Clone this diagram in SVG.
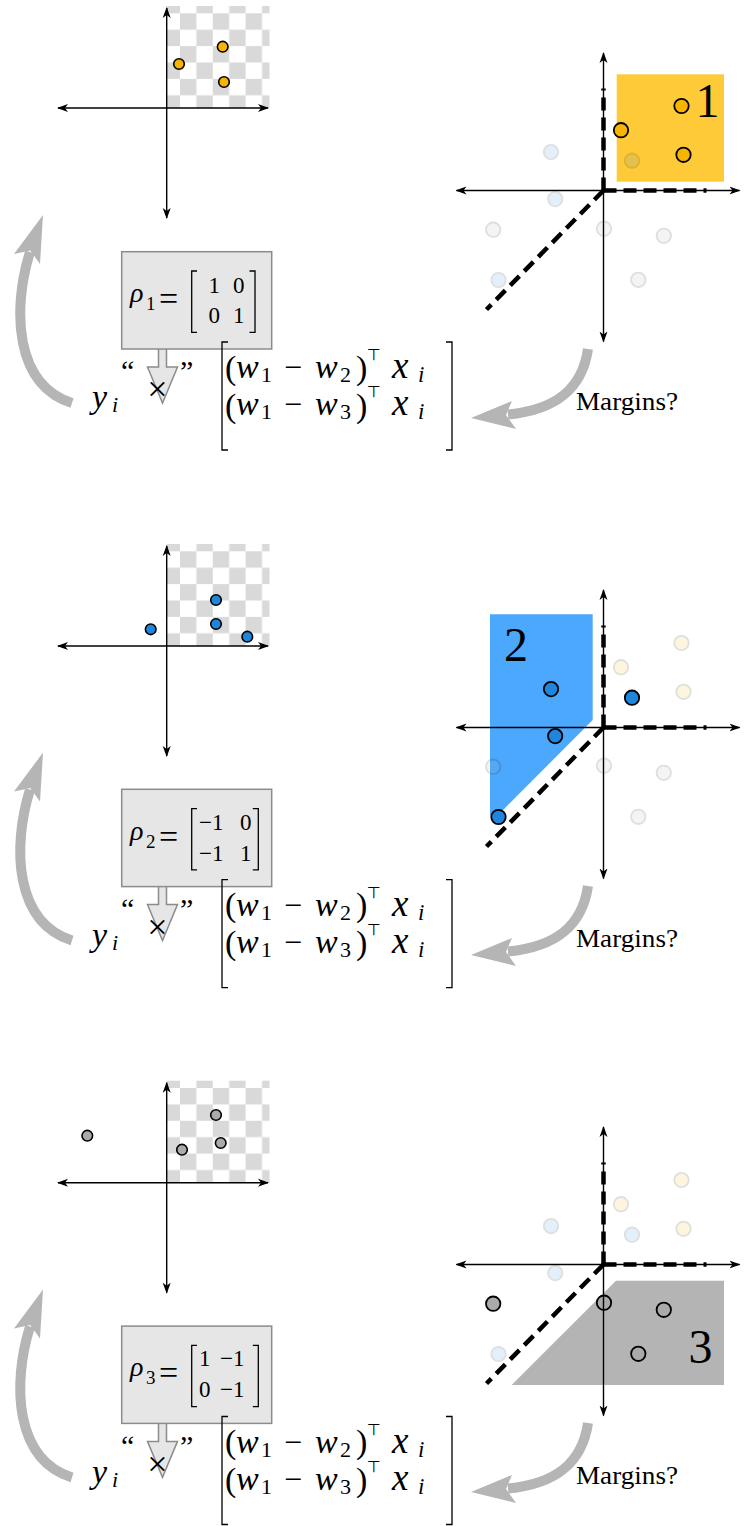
<svg xmlns="http://www.w3.org/2000/svg" width="744" height="1526" viewBox="0 0 744 1526">
<style>
.ax{fill:none;stroke:#000;stroke-width:1.4;marker-start:url(#ah);marker-end:url(#ah)}
.dsh{fill:none;stroke:#000;stroke-width:4.5;stroke-dasharray:13 7}
.po{fill:#f7b500;stroke:#000;stroke-width:1.8}
.pb{fill:#1f86de;stroke:#000;stroke-width:1.8}
.pg{fill:#aaaaaa;stroke:#000;stroke-width:1.8}
.lp circle{stroke-width:1.6}
.fd{opacity:0.12}
.box{fill:#e6e6e6;stroke:#8c8c8c;stroke-width:1.5}
.brk{fill:none;stroke:#000;stroke-width:1.3}
.gs{fill:none;stroke:#b5b5b5;stroke-width:10}
.gh{fill:#b5b5b5}
text{font-family:"Liberation Serif","DejaVu Serif",serif;fill:#000}
.i{font-style:italic}
.sym{font-family:"DejaVu Sans",sans-serif;font-style:normal}
.c{text-anchor:middle}
</style>
<defs>
<marker id="ah" viewBox="0 0 11 10" refX="10" refY="5" markerWidth="11" markerHeight="10" markerUnits="userSpaceOnUse" orient="auto-start-reverse">
<path d="M0,1 L11,5 L0,9 L3,5 z" fill="#000"/>
</marker>
<pattern id="chk" patternUnits="userSpaceOnUse" x="13.3" y="-94.7" width="32.8" height="32.8">
<rect width="32.8" height="32.8" fill="#fff"/>
<rect width="16.4" height="16.4" fill="#d9d9d9"/>
<rect x="16.4" y="16.4" width="16.4" height="16.4" fill="#d9d9d9"/>
</pattern>
</defs>

<!-- ================= PANEL 1 ================= -->
<g id="left-plot-1" class="lp" transform="translate(166.7,108)">
<rect x="0" y="-102" width="102.8" height="102" fill="url(#chk)"/>
<line class="ax" x1="-108.7" y1="0" x2="101.3" y2="0"/>
<line class="ax" x1="0" y1="110" x2="0" y2="-100"/>
<circle class="po" r="5.3" cx="12.3" cy="-44"/>
<circle class="po" r="5.3" cx="56" cy="-61.3"/>
<circle class="po" r="5.3" cx="57.3" cy="-26"/>
</g>

<g id="right-plot-1" transform="translate(603.5,190.5)">
<rect x="13.2" y="-116.2" width="107.3" height="107.4" fill="#ffca38"/>
<text class="c" x="104" y="-73.5" font-size="48" fill="#8d6e12">1</text>
<g class="fd">
<circle class="pb" r="7.2" cx="-52.5" cy="-38.4"/><circle class="pb" r="7.2" cx="28.5" cy="-29.8"/><circle class="pb" r="7.2" cx="-48.3" cy="8.6"/><circle class="pb" r="7.2" cx="-105" cy="89.5"/>
<circle class="pg" r="7.2" cx="-110.3" cy="39.2"/><circle class="pg" r="7.2" cx="0.5" cy="38.2"/><circle class="pg" r="7.2" cx="60.3" cy="45.3"/><circle class="pg" r="7.2" cx="34.8" cy="89.3"/>
</g>
<circle class="po" r="7.2" cx="17.5" cy="-60.3"/><circle class="po" r="7.2" cx="78" cy="-84.5"/><circle class="po" r="7.2" cx="80" cy="-35.7"/>
<line class="ax" x1="-147" y1="0" x2="136" y2="0"/>
<line class="ax" x1="0" y1="151" x2="0" y2="-137.5"/>
<path class="dsh" d="M0,0 V-102"/><path class="dsh" d="M0,0 H103"/><path class="dsh" d="M0,0 L-117,119"/>
</g>

<g id="box-1">
<path class="box" d="M158.5,345 V367 H147.5 L162.5,403 L177.5,367 H166.5 V345 Z"/>
<rect class="box" x="121.7" y="251.7" width="150" height="97.3"/>
<text><tspan class="i" x="130" y="302" font-size="28">ρ</tspan><tspan x="146" y="310" font-size="19">1</tspan><tspan x="159" y="310" font-size="34">=</tspan></text>
<path class="brk" d="M197,271 H191.7 V332.3 H197"/>
<path class="brk" d="M249.5,271 H255 V332.3 H249.5"/>
<text font-size="23"><tspan x="208.5" y="293">1</tspan><tspan x="233" y="293">0</tspan></text>
<text font-size="23"><tspan x="208.5" y="323">0</tspan><tspan x="233" y="323">1</tspan></text>
</g>

<g id="formula-1">
<text><tspan class="i" x="92" y="408" font-size="34">y</tspan><tspan class="i" x="112" y="412" font-size="22">i</tspan><tspan x="121" y="381" font-size="30">“</tspan><tspan x="147.3" y="401" font-size="36">×</tspan><tspan x="180" y="381" font-size="30">”</tspan></text>
<path class="brk" d="M228,342 H222 V450 H228"/>
<path class="brk" d="M446,342 H452 V450 H446"/>
<text><tspan x="225" y="378.5" font-size="34">(</tspan><tspan class="i" x="236" y="378" font-size="34">w</tspan><tspan x="261" y="382" font-size="22">1</tspan><tspan x="284" y="378" font-size="32">−</tspan><tspan class="i" x="315" y="378" font-size="34">w</tspan><tspan x="340" y="382" font-size="22">2</tspan><tspan x="356" y="378.5" font-size="34">)</tspan><tspan class="sym" x="367" y="360" font-size="16">⊤</tspan><tspan class="i" x="392" y="378" font-size="37">x</tspan><tspan class="i" x="418" y="382" font-size="23">i</tspan></text>
<text><tspan x="225" y="416.5" font-size="34">(</tspan><tspan class="i" x="236" y="415" font-size="34">w</tspan><tspan x="261" y="419" font-size="22">1</tspan><tspan x="284" y="415" font-size="32">−</tspan><tspan class="i" x="315" y="415" font-size="34">w</tspan><tspan x="340" y="419" font-size="22">3</tspan><tspan x="356" y="416.5" font-size="34">)</tspan><tspan class="sym" x="367" y="397" font-size="16">⊤</tspan><tspan class="i" x="392" y="415" font-size="37">x</tspan><tspan class="i" x="418" y="419" font-size="23">i</tspan></text>
</g>

<!-- ================= PANEL 2 ================= -->
<g id="left-plot-2" class="lp" transform="translate(166.7,646)">
<rect x="0" y="-102" width="102.8" height="102" fill="url(#chk)"/>
<line class="ax" x1="-108.7" y1="0" x2="101.3" y2="0"/>
<line class="ax" x1="0" y1="110" x2="0" y2="-100"/>
<circle class="pb" r="5.3" cx="-16" cy="-16.7"/>
<circle class="pb" r="5.3" cx="49.3" cy="-46"/>
<circle class="pb" r="5.3" cx="49.3" cy="-22"/>
<circle class="pb" r="5.3" cx="80.6" cy="-9.3"/>
</g>

<g id="right-plot-2" transform="translate(603.5,727.5)">
<polygon points="-113.5,-113.2 -10.8,-113.2 -10.8,-7.5 -106,88 -113.5,88" fill="#4ba8fd"/>
<text class="c" x="-87.5" y="-66.8" font-size="48" fill="#235e96">2</text>
<g class="fd">
<circle class="po" r="7.2" cx="17.5" cy="-60.3"/><circle class="po" r="7.2" cx="78" cy="-84.5"/><circle class="po" r="7.2" cx="80" cy="-35.7"/>
<circle class="pg" r="7.2" cx="-110.3" cy="39.2"/><circle class="pg" r="7.2" cx="0.5" cy="38.2"/><circle class="pg" r="7.2" cx="60.3" cy="45.3"/><circle class="pg" r="7.2" cx="34.8" cy="89.3"/>
</g>
<circle class="pb" r="7.2" cx="-52.5" cy="-38.4"/><circle class="pb" r="7.2" cx="28.5" cy="-29.8"/><circle class="pb" r="7.2" cx="-48.3" cy="8.6"/><circle class="pb" r="7.2" cx="-105" cy="89.5"/>
<line class="ax" x1="-147" y1="0" x2="136" y2="0"/>
<line class="ax" x1="0" y1="151" x2="0" y2="-137.5"/>
<path class="dsh" d="M0,0 V-102"/><path class="dsh" d="M0,0 H103"/><path class="dsh" d="M0,0 L-117,119"/>
</g>

<g id="box-2" transform="translate(0,537.6)">
<path class="box" d="M158.5,345 V367 H147.5 L162.5,403 L177.5,367 H166.5 V345 Z"/>
<rect class="box" x="121.7" y="251.7" width="150" height="97.3"/>
<text><tspan class="i" x="130" y="302" font-size="28">ρ</tspan><tspan x="146" y="310" font-size="19">2</tspan><tspan x="159" y="310" font-size="34">=</tspan></text>
<path class="brk" d="M197,271 H191.7 V332.3 H197"/>
<path class="brk" d="M252.8,271 H258.3 V332.3 H252.8"/>
<text font-size="23"><tspan x="199" y="292">−1</tspan><tspan x="240" y="292">0</tspan></text>
<text font-size="23"><tspan x="199" y="323">−1</tspan><tspan x="240" y="323">1</tspan></text>
</g>

<g id="formula-2" transform="translate(0,537.6)">
<text><tspan class="i" x="92" y="408" font-size="34">y</tspan><tspan class="i" x="112" y="412" font-size="22">i</tspan><tspan x="121" y="381" font-size="30">“</tspan><tspan x="147.3" y="401" font-size="36">×</tspan><tspan x="180" y="381" font-size="30">”</tspan></text>
<path class="brk" d="M228,342 H222 V450 H228"/>
<path class="brk" d="M446,342 H452 V450 H446"/>
<text><tspan x="225" y="378.5" font-size="34">(</tspan><tspan class="i" x="236" y="378" font-size="34">w</tspan><tspan x="261" y="382" font-size="22">1</tspan><tspan x="284" y="378" font-size="32">−</tspan><tspan class="i" x="315" y="378" font-size="34">w</tspan><tspan x="340" y="382" font-size="22">2</tspan><tspan x="356" y="378.5" font-size="34">)</tspan><tspan class="sym" x="367" y="360" font-size="16">⊤</tspan><tspan class="i" x="392" y="378" font-size="37">x</tspan><tspan class="i" x="418" y="382" font-size="23">i</tspan></text>
<text><tspan x="225" y="416.5" font-size="34">(</tspan><tspan class="i" x="236" y="415" font-size="34">w</tspan><tspan x="261" y="419" font-size="22">1</tspan><tspan x="284" y="415" font-size="32">−</tspan><tspan class="i" x="315" y="415" font-size="34">w</tspan><tspan x="340" y="419" font-size="22">3</tspan><tspan x="356" y="416.5" font-size="34">)</tspan><tspan class="sym" x="367" y="397" font-size="16">⊤</tspan><tspan class="i" x="392" y="415" font-size="37">x</tspan><tspan class="i" x="418" y="419" font-size="23">i</tspan></text>
</g>

<!-- ================= PANEL 3 ================= -->
<g id="left-plot-3" class="lp" transform="translate(166.7,1182.7)">
<rect x="0" y="-102" width="102.8" height="102" fill="url(#chk)"/>
<line class="ax" x1="-108.7" y1="0" x2="101.3" y2="0"/>
<line class="ax" x1="0" y1="110" x2="0" y2="-100"/>
<circle class="pg" r="5.3" cx="-79.4" cy="-47"/>
<circle class="pg" r="5.3" cx="15.3" cy="-33"/>
<circle class="pg" r="5.3" cx="49.3" cy="-67.7"/>
<circle class="pg" r="5.3" cx="54" cy="-39.7"/>
</g>

<g id="right-plot-3" transform="translate(603.5,1264.5)">
<polygon points="12.5,16.2 120.5,16.2 120.5,120.5 -91.8,120.5" fill="#b4b4b4"/>
<text class="c" x="97" y="98.2" font-size="48" fill="#444">3</text>
<g class="fd">
<circle class="po" r="7.2" cx="17.5" cy="-60.3"/><circle class="po" r="7.2" cx="78" cy="-84.5"/><circle class="po" r="7.2" cx="80" cy="-35.7"/>
<circle class="pb" r="7.2" cx="-52.5" cy="-38.4"/><circle class="pb" r="7.2" cx="28.5" cy="-29.8"/><circle class="pb" r="7.2" cx="-48.3" cy="8.6"/><circle class="pb" r="7.2" cx="-105" cy="89.5"/>
</g>
<circle class="pg" r="7.2" cx="-110.3" cy="39.2"/><circle class="pg" r="7.2" cx="0.5" cy="38.2"/><circle class="pg" r="7.2" cx="60.3" cy="45.3"/><circle class="pg" r="7.2" cx="34.8" cy="89.3"/>
<line class="ax" x1="-147" y1="0" x2="136" y2="0"/>
<line class="ax" x1="0" y1="151" x2="0" y2="-137.5"/>
<path class="dsh" d="M0,0 V-102"/><path class="dsh" d="M0,0 H103"/><path class="dsh" d="M0,0 L-117,119"/>
</g>

<g id="box-3" transform="translate(0,1074.4)">
<path class="box" d="M158.5,345 V367 H147.5 L162.5,403 L177.5,367 H166.5 V345 Z"/>
<rect class="box" x="121.7" y="251.7" width="150" height="97.3"/>
<text><tspan class="i" x="130" y="302" font-size="28">ρ</tspan><tspan x="146" y="310" font-size="19">3</tspan><tspan x="159" y="310" font-size="34">=</tspan></text>
<path class="brk" d="M197,271 H191.7 V332.3 H197"/>
<path class="brk" d="M252.8,271 H258.3 V332.3 H252.8"/>
<text font-size="23"><tspan x="199" y="292">1</tspan><tspan x="220" y="292">−1</tspan></text>
<text font-size="23"><tspan x="199" y="323">0</tspan><tspan x="220" y="323">−1</tspan></text>
</g>

<g id="formula-3" transform="translate(0,1074.5)">
<text><tspan class="i" x="92" y="408" font-size="34">y</tspan><tspan class="i" x="112" y="412" font-size="22">i</tspan><tspan x="121" y="381" font-size="30">“</tspan><tspan x="147.3" y="401" font-size="36">×</tspan><tspan x="180" y="381" font-size="30">”</tspan></text>
<path class="brk" d="M228,342 H222 V450 H228"/>
<path class="brk" d="M446,342 H452 V450 H446"/>
<text><tspan x="225" y="378.5" font-size="34">(</tspan><tspan class="i" x="236" y="378" font-size="34">w</tspan><tspan x="261" y="382" font-size="22">1</tspan><tspan x="284" y="378" font-size="32">−</tspan><tspan class="i" x="315" y="378" font-size="34">w</tspan><tspan x="340" y="382" font-size="22">2</tspan><tspan x="356" y="378.5" font-size="34">)</tspan><tspan class="sym" x="367" y="360" font-size="16">⊤</tspan><tspan class="i" x="392" y="378" font-size="37">x</tspan><tspan class="i" x="418" y="382" font-size="23">i</tspan></text>
<text><tspan x="225" y="416.5" font-size="34">(</tspan><tspan class="i" x="236" y="415" font-size="34">w</tspan><tspan x="261" y="419" font-size="22">1</tspan><tspan x="284" y="415" font-size="32">−</tspan><tspan class="i" x="315" y="415" font-size="34">w</tspan><tspan x="340" y="419" font-size="22">3</tspan><tspan x="356" y="416.5" font-size="34">)</tspan><tspan class="sym" x="367" y="397" font-size="16">⊤</tspan><tspan class="i" x="392" y="415" font-size="37">x</tspan><tspan class="i" x="418" y="419" font-size="23">i</tspan></text>
</g>

<!-- ================= CONNECTORS ================= -->
<g id="connectors">
<g id="loop-arrow-1">
<path class="gs" d="M72,403 C15,385 12,310 30,252"/>
<polygon class="gh" points="43,215 40,264 30.2,250.4 14,254"/>
</g>
<g id="margin-arrow-1">
<path class="gs" d="M588,349 C582,390 555,410 508,414.5"/>
<polygon class="gh" points="471,418 512,401 506,415 516,429"/>
</g>
<g id="loop-arrow-2" transform="translate(0,537.6)">
<path class="gs" d="M72,403 C15,385 12,310 30,252"/>
<polygon class="gh" points="43,215 40,264 30.2,250.4 14,254"/>
</g>
<g id="margin-arrow-2" transform="translate(0,537)">
<path class="gs" d="M588,349 C582,390 555,410 508,414.5"/>
<polygon class="gh" points="471,418 512,401 506,415 516,429"/>
</g>
<g id="loop-arrow-3" transform="translate(0,1074.5)">
<path class="gs" d="M72,403 C15,385 12,310 30,252"/>
<polygon class="gh" points="43,215 40,264 30.2,250.4 14,254"/>
</g>
<g id="margin-arrow-3" transform="translate(0,1074)">
<path class="gs" d="M588,349 C582,390 555,410 508,414.5"/>
<polygon class="gh" points="471,418 512,401 506,415 516,429"/>
</g>
</g>

<g id="labels">
<text x="576" y="410" font-size="25" textLength="102" lengthAdjust="spacingAndGlyphs">Margins?</text>
<text x="576" y="947" font-size="25" textLength="102" lengthAdjust="spacingAndGlyphs">Margins?</text>
<text x="576" y="1484" font-size="25" textLength="102" lengthAdjust="spacingAndGlyphs">Margins?</text>
</g>
</svg>
